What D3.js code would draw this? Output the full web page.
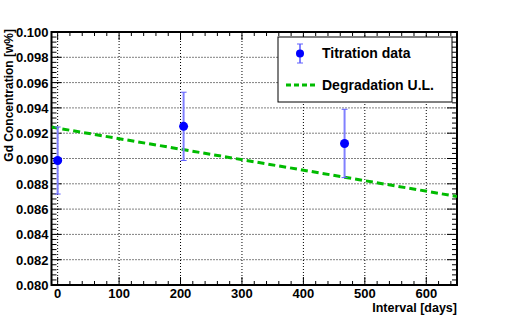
<!DOCTYPE html>
<html>
<head>
<meta charset="utf-8">
<script src="https://cdn.jsdelivr.net/npm/d3@7"></script>
<style>
  body { margin: 0; background: #fff; }
  text { font-family: "Liberation Sans", Arial, sans-serif; font-weight: bold; }
</style>
</head>
<body>
<div id="chart"></div>
<script>
// titration measurements
var days = [0, 205, 467];
var conc = [0.08984, 0.09254, 0.09119];
var errs = [0.00265, 0.0027, 0.0027];

// degradation upper limit line (end points)
var limitDays = [0, 650];
var limitConc = [0.0924, 0.0870];

var yTicks = [0.080, 0.082, 0.084, 0.086, 0.088, 0.090, 0.092, 0.094, 0.096, 0.098, 0.100];
var xTicks = [0, 100, 200, 300, 400, 500, 600];

var width = 508,
    height = 319,
    margin = {top: 32, right: 51, bottom: 34, left: 51.5};

var x = d3.scaleLinear()
    .domain([-10, 650])
    .range([margin.left, width - margin.right]);

var y = d3.scaleLinear()
    .domain([0.080, 0.100])
    .range([height - margin.bottom, margin.top]);

var svg = d3.select("#chart").append("svg")
    .attr("width", width)
    .attr("height", height);

// grid
svg.append("g").selectAll("line")
    .data(xTicks)
  .enter().append("line")
    .attr("x1", function(d) { return x(d); })
    .attr("x2", function(d) { return x(d); })
    .attr("y1", y(0.080))
    .attr("y2", y(0.100))
    .attr("stroke", "#000")
    .attr("stroke-width", 1)
    .attr("stroke-dasharray", "1,2");

svg.append("g").selectAll("line")
    .data(yTicks.slice(1, -1))
  .enter().append("line")
    .attr("x1", x(-10))
    .attr("x2", x(650))
    .attr("y1", function(d) { return y(d); })
    .attr("y2", function(d) { return y(d); })
    .attr("stroke", "#000")
    .attr("stroke-width", 1)
    .attr("stroke-dasharray", "1,2");

// ticks, ROOT style (inside, all four sides)
var xMinor = d3.range(0, 651, 20);
var yMinor = d3.range(0, 51).map(function(i) { return 0.080 + i * 0.0004; });

function tickLines(g, data, horiz, pos, len, dir) {
  g.selectAll(null)
      .data(data)
    .enter().append("line")
      .attr("x1", function(d) { return horiz ? x(d) : pos; })
      .attr("x2", function(d) { return horiz ? x(d) : pos + dir * len(d); })
      .attr("y1", function(d) { return horiz ? pos : y(d); })
      .attr("y2", function(d) { return horiz ? pos + dir * len(d) : y(d); })
      .attr("stroke", "#000")
      .attr("stroke-width", 1);
}

var ticks = svg.append("g");
var isMajorX = function(d) { return d % 100 === 0 ? 8 : 4; };
var isMajorY = function(d) { return Math.abs(Math.round(d * 500) - d * 500) < 1e-6 ? 10 : 5; };
tickLines(ticks, xMinor, true, y(0.080), isMajorX, -1);
tickLines(ticks, xMinor, true, y(0.100), isMajorX, 1);
tickLines(ticks, yMinor, false, x(-10), isMajorY, 1);
tickLines(ticks, yMinor, false, x(650), isMajorY, -1);

// frame
svg.append("rect")
    .attr("x", x(-10))
    .attr("y", y(0.100))
    .attr("width", x(650) - x(-10))
    .attr("height", y(0.080) - y(0.100))
    .attr("fill", "none")
    .attr("stroke", "#000")
    .attr("stroke-width", 2);

// tick labels
svg.append("g").selectAll("text")
    .data(xTicks)
  .enter().append("text")
    .attr("x", function(d) { return x(d); })
    .attr("y", y(0.080) + 13)
    .attr("text-anchor", "middle")
    .style("font-size", "13px")
    .text(function(d) { return d; });

svg.append("g").selectAll("text")
    .data(yTicks)
  .enter().append("text")
    .attr("x", x(-10) - 3)
    .attr("y", function(d) { return y(d) + 5; })
    .attr("text-anchor", "end")
    .style("font-size", "13px")
    .text(function(d) { return d3.format(".3f")(d); });

// axis titles
svg.append("text")
    .attr("x", x(650))
    .attr("y", 312)
    .attr("text-anchor", "end")
    .style("font-size", "12.5px")
    .text("Interval [days]");

svg.append("text")
    .attr("transform", "translate(9,29) rotate(-90)")
    .attr("text-anchor", "end")
    .attr("dy", "0.35em")
    .style("font-size", "12px")
    .text("Gd Concentration [w%]");

// degradation upper limit
svg.append("clipPath").attr("id", "plotclip")
  .append("rect")
    .attr("x", x(-10))
    .attr("y", y(0.100))
    .attr("width", x(650) - x(-10))
    .attr("height", y(0.080) - y(0.100));

var line = d3.line()
    .x(function(d) { return x(d[0]); })
    .y(function(d) { return y(d[1]); });

svg.append("path")
    .datum(d3.zip([-10, 650], [limitConc[0] + (limitConc[0] - limitConc[1]) * 10 / 650, limitConc[1]]))
    .attr("clip-path", "url(#plotclip)")
    .attr("d", line)
    .attr("fill", "none")
    .attr("stroke", "#00bb00")
    .attr("stroke-width", 3)
    .attr("stroke-dasharray", "7,4");

// titration data with error bars
var pts = d3.zip(days, conc, errs);

svg.append("g").selectAll("line")
    .data(pts)
  .enter().append("line")
    .attr("x1", function(d) { return x(d[0]); })
    .attr("x2", function(d) { return x(d[0]); })
    .attr("y1", function(d) { return y(d[1] - d[2]); })
    .attr("y2", function(d) { return y(d[1] + d[2]); })
    .attr("stroke", "#8080ff")
    .attr("stroke-width", 2);

svg.append("g").selectAll("path")
    .data(pts)
  .enter().append("path")
    .attr("d", function(d) {
      var cx = x(d[0]);
      return "M" + (cx - 3) + "," + y(d[1] - d[2]) + "H" + (cx + 3) +
             "M" + (cx - 3) + "," + y(d[1] + d[2]) + "H" + (cx + 3);
    })
    .attr("stroke", "#6060ff")
    .attr("stroke-width", 1);

svg.append("g").selectAll("circle")
    .data(pts)
  .enter().append("circle")
    .attr("cx", function(d) { return x(d[0]); })
    .attr("cy", function(d) { return y(d[1]); })
    .attr("r", 4.5)
    .attr("fill", "#0000ff");

// legend
var lg = svg.append("g");
lg.append("rect")
    .attr("x", 278)
    .attr("y", 37)
    .attr("width", 174)
    .attr("height", 65)
    .attr("fill", "#fff")
    .attr("stroke", "#000")
    .attr("stroke-width", 1);

lg.append("line")
    .attr("x1", 300).attr("x2", 300)
    .attr("y1", 44).attr("y2", 63)
    .attr("stroke", "#8080ff").attr("stroke-width", 2);
lg.append("path")
    .attr("d", "M297,44H303M297,63H303")
    .attr("stroke", "#6060ff").attr("stroke-width", 1);
lg.append("circle")
    .attr("cx", 300).attr("cy", 53.5).attr("r", 4)
    .attr("fill", "#0000ff");
lg.append("text")
    .attr("x", 322).attr("y", 58)
    .style("font-size", "14px")
    .text("Titration data");

lg.append("line")
    .attr("x1", 286).attr("x2", 317)
    .attr("y1", 85).attr("y2", 85)
    .attr("stroke", "#00bb00")
    .attr("stroke-width", 3)
    .attr("stroke-dasharray", "5,3");
lg.append("text")
    .attr("x", 322).attr("y", 90)
    .style("font-size", "14px")
    .text("Degradation U.L.");
</script>
</body>
</html>
